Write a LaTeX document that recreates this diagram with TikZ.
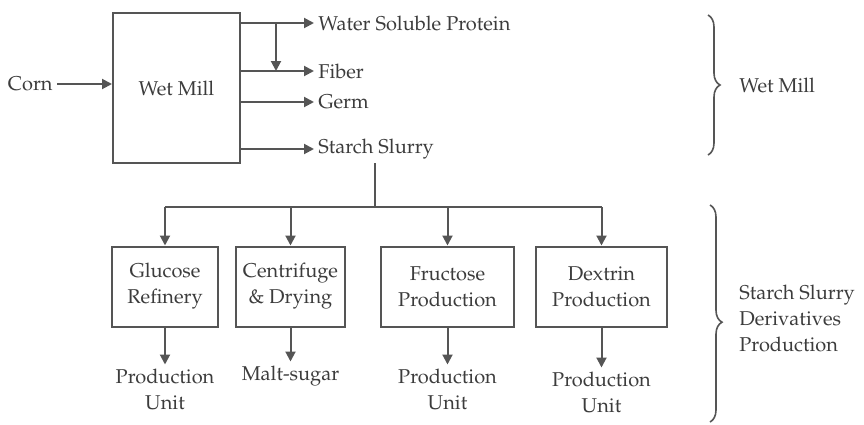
\documentclass[tikz,border=0pt]{standalone}
\usepackage[T1]{fontenc}
\usepackage{mathpazo}
\usetikzlibrary{positioning}
\usetikzlibrary{arrows.meta}
\usetikzlibrary{decorations.pathreplacing}
\definecolor{linegray}{RGB}{85,85,85}
\definecolor{textgray}{RGB}{60,60,60}

\begin{document}
\begin{tikzpicture}[x=0.5pt, y=-0.5pt, font=\fontsize{10}{13}\selectfont]
    \tikzstyle{unit}=[draw=linegray, line width=1pt, text=textgray,
                      align=center, minimum height=40pt, inner sep=0pt]
    \tikzstyle{prodtext}=[text=textgray, align=center, inner sep=2pt]
    \tikzstyle{flow}=[linegray, line width=1pt, -{Triangle[length=5pt,width=5pt]}]
    \tikzstyle{pipe}=[linegray, line width=1pt]
    \tikzstyle{group}=[linegray, line width=0.8pt, decorate,
                       decoration={brace, amplitude=6pt}]
    \useasboundingbox (0,0) rectangle (864,424);
    % Wet mill stage
    \node[unit, minimum width=63.5pt, minimum height=75pt] (mill) at (176.5,88) {Wet Mill};
    \node[prodtext, anchor=east] (corn) at (57,84) {Corn};
    \draw[flow] (corn) -- (corn -| mill.west);
    \foreach \y/\name/\txt in {23/water/Water Soluble Protein, 71/fiber/Fiber,
                               102/germ/Germ, 149/slurry/Starch Slurry}
        \node[prodtext, anchor=west] (\name) at (314,\y) {\txt};
    \foreach \name in {water,fiber,germ,slurry}
        \draw[flow] (mill.east |- \name) -- (\name.west);
    \coordinate (split) at (276,23);
    \draw[flow] (split) -- (split |- fiber);
    % Starch slurry derivatives
    \coordinate (hub) at (375,207);
    \draw[pipe] (slurry.south -| hub) -- (hub);
    \foreach \cx/\w/\name/\txt in {165/106/glucose/{Glucose\\Refinery},
                                   290.5/109/centri/{Centrifuge\\\& Drying},
                                   447.5/133/fructose/{Fructose\\Production},
                                   601.5/131/dextrin/{Dextrin\\Production}}
        \node[unit, minimum width=\w*0.5pt] (\name) at (\cx,286.5) {\txt};
    \draw[pipe] (glucose.north |- hub) -- (dextrin.north |- hub);
    \foreach \name/\dy/\txt in {glucose/18.5/{Production\\Unit}, centri/17/{Malt-sugar},
                                fructose/18.5/{Production\\Unit}, dextrin/20/{Production\\Unit}}
    {
        \draw[flow] (\name.north |- hub) -- (\name.north);
        \node[prodtext, anchor=north, below=\dy pt of \name] (\name out) {\txt};
        \draw[flow] (\name) -- (\name out);
    }
    % Stage braces
    \coordinate (wtop) at (708,15);
    \coordinate (wbot) at (708,155);
    \draw[group] (wtop) -- (wbot);
    \node[prodtext, anchor=west] (wlabel) at (735,85) {Wet Mill};
    \coordinate (stop) at (710,205);
    \coordinate (sbot) at (710,422);
    \draw[group, decoration={aspect=0.54}] (stop) -- (sbot);
    \node[prodtext, anchor=west, align=left] (slabel) at (735,318)
        {Starch Slurry\\Derivatives\\Production};
\end{tikzpicture}
\end{document}
